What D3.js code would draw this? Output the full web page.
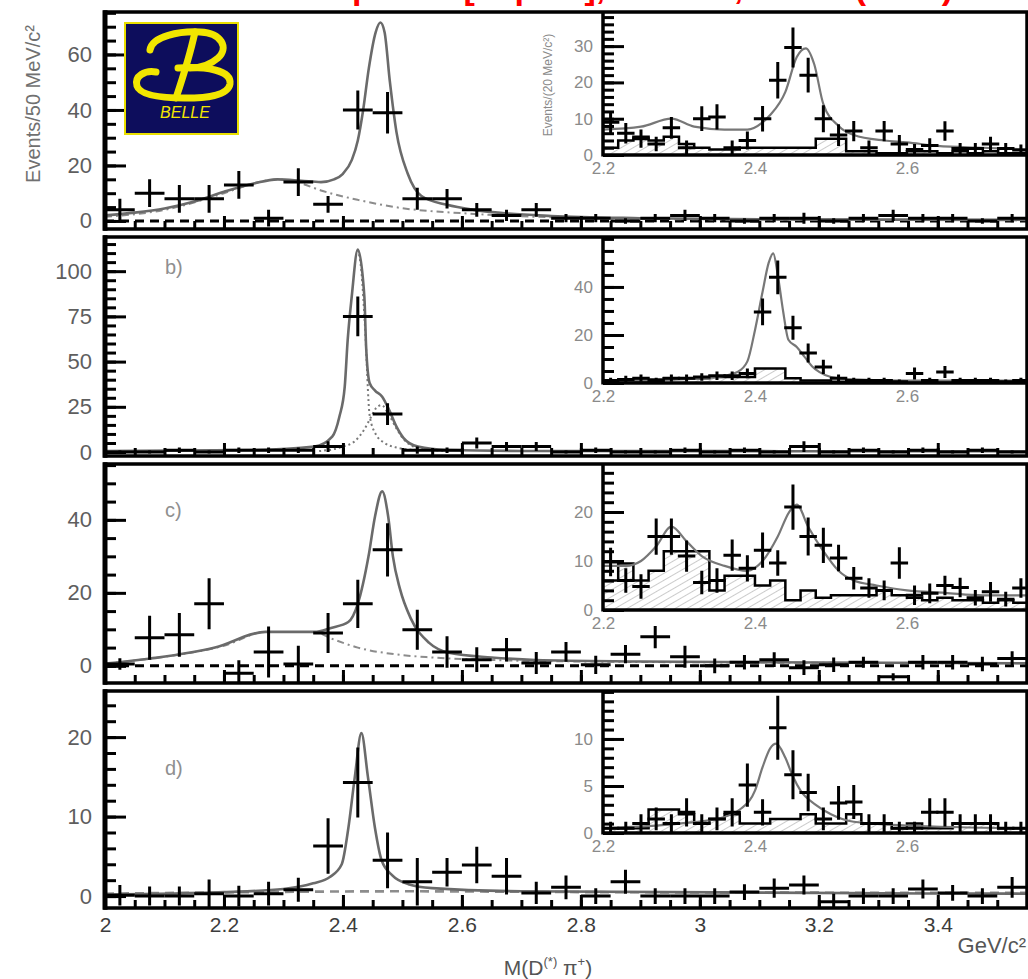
<!DOCTYPE html>
<html>
<head>
<meta charset="utf-8">
<script src="https://cdn.jsdelivr.net/npm/d3@7"></script>
<style>
  body { margin: 0; background: #fff; }
  svg { display: block; font-family: "Liberation Sans", Arial, sans-serif; }
</style>
</head>
<body>
<svg width="1028" height="979"></svg>
<script>
// ---- main spectra, 50 MeV bins ----
const binCenters = [2.025, 2.075, 2.125, 2.175, 2.225, 2.275, 2.325, 2.375, 2.425, 2.475,
  2.525, 2.575, 2.625, 2.675, 2.725, 2.775, 2.825, 2.875, 2.925, 2.975,
  3.025, 3.075, 3.125, 3.175, 3.225, 3.275, 3.325, 3.375, 3.425, 3.475, 3.525]

const aCounts = [4, 10, 8, 8, 13, 1, 14, 6, 40, 39, 8, 8, 4, 2, 4, 1, 1, 0, 1, 2, 1, 0, 1, 1, 0, 1, 2, 1, 1, 0, 1]
const aErrors = [4, 5, 5, 5, 5, 3, 5, 3, 7, 7.5, 4, 3.5, 2.5, 2, 2.5, 1.5, 1.5, 1, 1.5, 2, 1.5, 1, 1.5, 2, 1, 1.5, 2, 1.5, 1.5, 1, 1.5]
const bCounts = [0, 0, 1, 0, 1, 1, 1, 3, 75, 21, 1, 1, 5, 3, 3, 0, 1, 0, 0, 1, 0, 1, 0, 3, 0, 1, 0, 1, 0, 1, 0]
const bErrors = [1, 1, 1.5, 1, 1.5, 1.5, 1.5, 3, 11, 6, 2, 1.5, 3, 2.5, 2.5, 1, 1.5, 1, 1, 1.5, 1, 1.5, 1, 3, 1, 1.5, 1, 1.5, 1, 1.5, 1]
const cCounts = [0.5, 7.7, 8.5, 17, -2, 3.8, 0.5, 9, 17, 31.8, 9.9, 3.8, 1.7, 4.4, 0.8, 3.8, 0.3, 3.2, 8, 2.5, 0, 1, 1.7, -0.5, 0.3, 1, -3, 1, 1, 0.5, 2]
const cErrors = [1.6, 6, 6, 7, 3.5, 7, 5, 5.5, 6.6, 7.3, 5.5, 4.3, 3.4, 3.2, 3, 2.7, 2.5, 2.5, 3.2, 3, 2, 2, 2, 2, 2, 1.5, 1, 2, 2, 2, 2]
const dCounts = [0.1, 0, 0, 0.3, 0, 0.3, 0.8, 6.3, 14.3, 4.5, 1.8, 3, 3.9, 2.5, 0.4, 1.1, 0, 1.8, 0, 0, 0, 0.5, 1, 1.4, -0.7, 0, 0, 0.9, 0.4, 0, 1.1]
const dErrors = [1.3, 1.2, 1.2, 1.8, 1.3, 1.5, 1.5, 3.5, 4.4, 3.5, 3, 1.8, 2.3, 2.3, 1.4, 1.5, 1, 1.5, 1, 1, 1, 1, 1.2, 1.2, 1, 1, 1, 1.2, 1, 1, 1.3]

// fit curves, [mass, events]
const aFit = [[2.0, 2], [2.05, 3], [2.1, 4.5], [2.15, 7], [2.2, 10.5], [2.25, 13.5], [2.29, 15], [2.33, 14.5],
  [2.363, 14], [2.385, 15], [2.40, 17], [2.415, 22], [2.425, 29], [2.434, 40], [2.4435, 55], [2.455, 68],
  [2.463, 71.5], [2.47, 68], [2.479, 50], [2.49, 32], [2.509, 17], [2.532, 9], [2.575, 5.8], [2.62, 4],
  [2.665, 2.9], [2.75, 1.8], [2.9, 1], [3.1, 0.6], [3.55, 0.4]]
const aBkg = [[2.0, 1.5], [2.1, 4], [2.2, 10], [2.25, 13.5], [2.29, 15], [2.33, 13.5], [2.363, 11], [2.425, 7.6],
  [2.5, 4.6], [2.6, 2.8], [2.7, 1.7], [2.85, 0.9], [3.1, 0.5], [3.55, 0.3]]
const bFit = [[2.0, 0.5], [2.244, 1.1], [2.352, 3], [2.382, 8.5], [2.394, 19.5], [2.403, 36], [2.408, 62],
  [2.4148, 86], [2.425, 112], [2.436, 86], [2.439, 58], [2.445, 38], [2.454, 34], [2.466, 30.6], [2.478, 23],
  [2.49, 14], [2.502, 7.7], [2.526, 3], [2.574, 1.1], [2.7, 0.6], [3.55, 0.4]]
const bNarrow = [[2.425, 112], [2.431, 100], [2.437, 70], [2.445, 20], [2.455, 10], [2.47, 5], [2.49, 2.5], [2.53, 1]]
const bBroad = [[2.36, 0.5], [2.40, 3], [2.42, 6], [2.435, 12], [2.445, 18], [2.455, 24], [2.465, 26],
  [2.475, 22], [2.49, 13], [2.505, 6], [2.53, 2], [2.58, 0.5]]
const cFit = [[2.0, 0.6], [2.077, 2], [2.185, 5], [2.27, 9.3], [2.352, 9.3], [2.38, 10.4], [2.409, 12], [2.425, 17],
  [2.443, 30], [2.454, 41], [2.466, 47.8], [2.476, 41], [2.484, 30], [2.496, 21], [2.514, 13], [2.545, 6.3],
  [2.58, 3.5], [2.65, 2.3], [2.724, 1.6], [2.9, 1.2], [3.2, 0.9], [3.55, 0.7]]
const cBkg = [[2.0, 0.6], [2.1, 2.5], [2.2, 5.5], [2.27, 9.3], [2.352, 9.3], [2.38, 7.5], [2.425, 5], [2.486, 3.2],
  [2.55, 2.3], [2.65, 1.6], [2.8, 1.2], [3.1, 0.9], [3.55, 0.7]]
const dFit = [[2.0, 0.2], [2.2, 0.5], [2.3, 0.9], [2.35, 1.6], [2.378, 2.4], [2.398, 4], [2.409, 8.5], [2.42, 15],
  [2.431, 20.5], [2.442, 15], [2.454, 8.5], [2.465, 4.5], [2.483, 2.6], [2.51, 1.5], [2.55, 1], [2.7, 0.6], [3.55, 0.3]]
const dBkg = [[2.0, 0.3], [2.25, 0.5], [2.5, 0.6], [2.8, 0.5], [3.55, 0.4]]

// ---- insets, 20 MeV bins ----
const insetBins = [2.21, 2.23, 2.25, 2.27, 2.29, 2.31, 2.33, 2.35, 2.37, 2.39, 2.41, 2.43, 2.45, 2.47,
  2.49, 2.51, 2.53, 2.55, 2.57, 2.59, 2.61, 2.63, 2.65, 2.67, 2.69, 2.71, 2.73, 2.75]

const insACounts = [9, 6, 4.5, 3, 7.5, 2, 10, 10.5, 2, 4, 10, 20.6, 29.6, 22, 10, 5.5, 6.6, 2, 6.6, 3, 1.5, 2.6, 6.6, 1.8, 1.8, 3, 1.8, 1.4]
const insAErrors = [3, 2.8, 2.5, 2, 3, 2, 3.4, 3.5, 2, 2.5, 3.5, 5, 5.5, 4.8, 3.7, 3, 2.8, 2, 2.8, 2.5, 1.5, 2, 2.7, 1.5, 1.5, 2, 1.5, 1.5]
const insAHist = [2, 4, 5, 4, 5, 3, 2, 1.5, 1.5, 2, 2, 2, 2, 2, 4.5, 4.5, 1, 1, 0.5, 0.5, 1, 1, 0.5, 1, 0.5, 1, 0.5, 0.5]
const insAFit = [[2.2, 7], [2.25, 7.8], [2.29, 10], [2.32, 7.8], [2.36, 7], [2.39, 7], [2.41, 9], [2.42, 11],
  [2.44, 17.4], [2.455, 27], [2.467, 29.4], [2.478, 25], [2.49, 14], [2.51, 8], [2.53, 5.5], [2.57, 4],
  [2.6, 3.5], [2.64, 2.5], [2.7, 2], [2.76, 1.5]]

const insBCounts = [1, 1.5, 2, 1, 2, 2, 2.5, 3, 3, 4, 29.6, 44, 23, 12.5, 6.7, 2, 1, 1, 1, 0.5, 4, 1, 4.6, 1, 1, 1, 0.5, 1]
const insBErrors = [1.2, 1.5, 1.5, 1.2, 1.5, 1.5, 1.6, 1.8, 1.8, 2, 5.6, 7, 5, 4, 3, 1.5, 1.2, 1.2, 1.2, 1, 2.5, 1.2, 2.5, 1.2, 1.2, 1.2, 1, 1.2]
const insBHist = [1, 1, 1, 1.5, 2, 2, 2, 2.5, 2.5, 2.5, 6, 6, 2, 1, 1, 0.5, 0.5, 0.5, 0.5, 0.5, 0.5, 0.5, 0.5, 0.5, 0.5, 0.5, 0.5, 0.5]
const insBFit = [[2.2, 1], [2.3, 1.5], [2.35, 2.5], [2.377, 4.6], [2.39, 9], [2.40, 22], [2.41, 38], [2.418, 50],
  [2.424, 54], [2.43, 45], [2.437, 30], [2.444, 18], [2.455, 15], [2.465, 11], [2.475, 7], [2.485, 4.5],
  [2.5, 2.5], [2.53, 1.5], [2.6, 1], [2.76, 1]]

const insCCounts = [9.8, 6, 4.8, 15, 15, 11, 5.6, 6, 11.2, 8.5, 12.2, 9.6, 21, 15, 13.2, 10.6, 6.5, 4.5, 4, 9.6, 3, 3.4, 5, 4.6, 2.5, 3.7, 2.2, 4.5]
const insCErrors = [2.9, 2.5, 2.5, 3.7, 3.7, 3.2, 2.4, 2.5, 3.2, 2.7, 3.6, 2.6, 4.6, 3.9, 3.6, 2.7, 2.3, 2, 2, 3.2, 2, 2, 2, 2, 1.6, 2, 1.5, 2]
const insCHist = [6, 9.5, 6, 8, 12, 12, 12, 4, 7, 7, 5, 6, 2, 4, 2.5, 3, 3, 3, 4, 3, 2.5, 2, 2.5, 2, 2, 1.5, 2, 1.5]
const insCFit = [[2.2, 9], [2.23, 9], [2.25, 10], [2.27, 13], [2.29, 17], [2.31, 14], [2.33, 11], [2.36, 9],
  [2.39, 8], [2.41, 10], [2.43, 15], [2.445, 20], [2.455, 21.5], [2.47, 17], [2.49, 12], [2.51, 8],
  [2.53, 6], [2.56, 5], [2.6, 4], [2.65, 3.5], [2.7, 3], [2.76, 3]]

const insDCounts = [0.5, 0.5, 1, 1.5, 1, 2.2, 1, 1.5, 2.2, 5.1, 2.2, 11.2, 6.2, 4.3, 1.5, 3.2, 3.3, 1, 1, 0.5, 0.5, 2.2, 2.2, 1, 1, 1, 0.5, 0.5]
const insDErrors = [0.7, 0.7, 1, 1.2, 1, 1.5, 1, 1.2, 1.5, 2.3, 1.4, 3.4, 2.6, 2, 1.2, 1.8, 1.8, 1, 1, 0.7, 0.7, 1.5, 1.5, 1, 1, 1, 0.7, 0.7]
const insDHist = [0.5, 0.5, 0.5, 2.5, 2.5, 2, 1, 1.5, 2, 1, 1, 1.5, 1.5, 2, 1, 1, 2, 1, 1, 0.5, 1, 0.5, 0.5, 1, 1, 1, 0.5, 0.5]
const insDFit = [[2.2, 0.5], [2.3, 1], [2.35, 1.5], [2.38, 2.5], [2.40, 4.5], [2.41, 7], [2.42, 9], [2.428, 9.5],
  [2.44, 8], [2.45, 6], [2.46, 4.5], [2.48, 3], [2.5, 2], [2.53, 1.2], [2.6, 0.8], [2.76, 0.5]]

// tick labels
const xTickLabels = [2, 2.2, 2.4, 2.6, 2.8, 3, 3.2, 3.4]
const insXTickLabels = [2.2, 2.4, 2.6]
const aYTicks = [0, 20, 40, 60]
const bYTicks = [0, 25, 50, 75, 100]
const cYTicks = [0, 20, 40]
const dYTicks = [0, 10, 20]
const insAYTicks = [0, 10, 20, 30]
const insBYTicks = [0, 20, 40]
const insCYTicks = [0, 10, 20]
const insDYTicks = [0, 5, 10]


var svg = d3.select('svg')
var x = d3.scaleLinear().domain([2, 3.55]).range([105, 1027])
var xi = d3.scaleLinear().domain([2.2, 2.758]).range([603, 1027])

var defs = svg.append('defs')
defs.append('pattern')
  .attr('id', 'hatch')
  .attr('patternUnits', 'userSpaceOnUse')
  .attr('width', 6).attr('height', 6)
  .attr('patternTransform', 'rotate(60)')
  .append('line')
  .attr('x1', 0).attr('y1', 0).attr('x2', 0).attr('y2', 6)
  .attr('stroke', '#a8a8a8').attr('stroke-width', 1.2)

var panels = [
  { id: 'a', top: 12, bottom: 229, yDom: [-2.9, 75.3], yTicks: aYTicks, minor: 5,
    counts: aCounts, errs: aErrors, fit: aFit, bkg: aBkg, zero: '#000',
    ins: { axis: 155, yDom: [0, 39.4], yTicks: insAYTicks, minor: 2, cover: 180,
      counts: insACounts, errs: insAErrors, hist: insAHist, fit: insAFit } },
  { id: 'b', top: 237, bottom: 456, yDom: [-2.2, 118.9], yTicks: bYTicks, minor: 5, label: 'b)', labelY: 274,
    counts: bCounts, errs: bErrors, fit: bFit, parts: [bNarrow, bBroad],
    ins: { axis: 383, yDom: [0, 60.8], yTicks: insBYTicks, minor: 5, cover: 408,
      counts: insBCounts, errs: insBErrors, hist: insBHist, fit: insBFit } },
  { id: 'c', top: 464, bottom: 683, yDom: [-4.7, 55.3], yTicks: cYTicks, minor: 5, label: 'c)', labelY: 517,
    counts: cCounts, errs: cErrors, fit: cFit, bkg: cBkg, zero: '#000',
    ins: { axis: 610, yDom: [0, 29.8], yTicks: insCYTicks, minor: 2, cover: 626,
      counts: insCCounts, errs: insCErrors, hist: insCHist, fit: insCFit } },
  { id: 'd', top: 691, bottom: 908, yDom: [-1.5, 25.8], yTicks: dYTicks, minor: 2, label: 'd)', labelY: 775,
    counts: dCounts, errs: dErrors, fit: dFit, bkg: dBkg, bkgDash: '9,6',
    ins: { axis: 833, yDom: [0, 15.1], yTicks: insDYTicks, minor: 1, cover: 858,
      counts: insDCounts, errs: insDErrors, hist: insDHist, fit: insDFit } }
]

function styleTicks(g, w) {
  g.select('.domain').remove()
  g.selectAll('.tick line').attr('stroke', '#000').attr('stroke-width', w)
}

function crossPath(xs, y, m, v, e, hw) {
  return 'M' + xs(m) + ',' + y(v - e) + 'V' + y(v + e) +
    'M' + xs(m - hw) + ',' + y(v) + 'H' + xs(m + hw)
}

function drawPanel(p) {
  let g = svg.append('g')
  let y = d3.scaleLinear().domain(p.yDom).range([p.bottom, p.top])

  defs.append('clipPath').attr('id', 'clip' + p.id)
    .append('rect').attr('x', 105).attr('y', p.top).attr('width', 922).attr('height', p.bottom - p.top)

  let body = g.append('g').attr('clip-path', 'url(#clip' + p.id + ')')
  let line = d3.line().x(d => x(d[0])).y(d => y(d[1])).curve(d3.curveMonotoneX)

  if (p.zero) {
    body.append('line')
      .attr('x1', 105).attr('x2', 1027)
      .attr('y1', y(0)).attr('y2', y(0))
      .attr('stroke', p.zero).attr('stroke-width', 3)
      .attr('stroke-dasharray', '9,6')
  }
  if (p.bkg) {
    body.append('path').attr('d', line(p.bkg))
      .attr('fill', 'none').attr('stroke', '#8c8c8c').attr('stroke-width', p.bkgDash ? 2.6 : 2)
      .attr('stroke-dasharray', p.bkgDash || '7,4,2,4')
  }
  if (p.parts) {
    p.parts.forEach(part => {
      body.append('path').attr('d', line(part))
        .attr('fill', 'none').attr('stroke', '#7a7a7a').attr('stroke-width', 2)
        .attr('stroke-dasharray', '2,3')
    })
  }
  body.append('path').attr('d', line(p.fit))
    .attr('fill', 'none').attr('stroke', '#6a6a6a').attr('stroke-width', 2.6)

  body.selectAll('path.pt')
    .data(d3.zip(binCenters, p.counts, p.errs))
    .enter()
    .append('path')
    .attr('class', 'pt')
    .attr('d', d => crossPath(x, y, d[0], d[1], d[2], 0.025))
    .attr('fill', 'none').attr('stroke', '#000').attr('stroke-width', 3)

  // inset
  let q = p.ins
  let yi = d3.scaleLinear().domain(q.yDom).range([q.axis, p.top])
  g.append('rect')
    .attr('x', 603).attr('y', p.top).attr('width', 424).attr('height', q.cover - p.top)
    .attr('fill', '#fff')

  defs.append('clipPath').attr('id', 'iclip' + p.id)
    .append('rect').attr('x', 603).attr('y', p.top).attr('width', 424).attr('height', q.axis - p.top)
  let ib = g.append('g').attr('clip-path', 'url(#iclip' + p.id + ')')

  let steps = []
  insetBins.forEach((c, i) => {
    steps.push([c - 0.01, q.hist[i]])
    steps.push([c + 0.01, q.hist[i]])
  })
  ib.append('path')
    .attr('d', d3.area().x(d => xi(d[0])).y0(yi(0)).y1(d => yi(d[1]))(steps))
    .attr('fill', 'url(#hatch)')
  ib.append('path')
    .attr('d', d3.line().x(d => xi(d[0])).y(d => yi(d[1]))(steps))
    .attr('fill', 'none').attr('stroke', '#000').attr('stroke-width', 2.5)

  ib.append('path')
    .attr('d', d3.line().x(d => xi(d[0])).y(d => yi(d[1])).curve(d3.curveMonotoneX)(q.fit))
    .attr('fill', 'none').attr('stroke', '#777').attr('stroke-width', 2.2)

  ib.selectAll('path.ipt')
    .data(d3.zip(insetBins, q.counts, q.errs))
    .enter()
    .append('path')
    .attr('class', 'ipt')
    .attr('d', d => crossPath(xi, yi, d[0], d[1], d[2], 0.0115))
    .attr('fill', 'none').attr('stroke', '#000').attr('stroke-width', 3)

  // inset axes
  let iy = g.append('g').attr('transform', 'translate(603,0)')
  iy.append('g')
    .call(d3.axisLeft(yi).tickValues(d3.range(0, q.yDom[1], q.minor)).tickSizeInner(-11).tickFormat(''))
    .call(styleTicks, 3)
  iy.append('g')
    .call(d3.axisLeft(yi).tickValues(q.yTicks).tickSizeInner(-21).tickPadding(10))
    .call(styleTicks, 3)
    .selectAll('text').attr('font-size', 17).attr('fill', '#8a8a8a')

  g.append('g')
    .attr('transform', 'translate(0,' + q.axis + ')')
    .call(d3.axisBottom(xi).tickValues(insXTickLabels).tickSizeInner(0).tickPadding(7).tickFormat(d3.format('.1f')))
    .call(styleTicks, 2)
    .selectAll('text').attr('font-size', 17).attr('fill', '#8a8a8a')

  g.append('line').attr('x1', 603).attr('x2', 603).attr('y1', p.top).attr('y2', q.axis + 1.5)
    .attr('stroke', '#000').attr('stroke-width', 3.5)
  g.append('line').attr('x1', 603).attr('x2', 1027).attr('y1', q.axis).attr('y2', q.axis)
    .attr('stroke', '#000').attr('stroke-width', 3.5)

  // main axes and frame
  g.append('g')
    .attr('transform', 'translate(105,0)')
    .call(d3.axisLeft(y).tickValues(d3.range(0, p.yDom[1], p.minor)).tickSizeInner(-11).tickFormat(''))
    .call(styleTicks, 3)
  g.append('g')
    .attr('transform', 'translate(105,0)')
    .call(d3.axisLeft(y).tickValues(p.yTicks).tickSizeInner(-21).tickPadding(13))
    .call(styleTicks, 3)
    .selectAll('text').attr('font-size', 22).attr('fill', '#5e5e5e')

  let xb = g.append('g').attr('transform', 'translate(0,' + p.bottom + ')')
  xb.append('g')
    .call(d3.axisBottom(x).tickValues(d3.range(2.05, 3.55, 0.05)).tickSizeInner(-8).tickFormat(''))
    .call(styleTicks, 3)
  let major = xb.append('g')
    .call(d3.axisBottom(x).tickValues(xTickLabels).tickSizeInner(-13).tickPadding(9).tickFormat(d3.format('~g')))
    .call(styleTicks, 3)
  major.selectAll('text')
    .attr('font-size', 21).attr('fill', '#3c3c3c')
    .style('display', p.id === 'd' ? null : 'none')

  g.append('rect')
    .attr('x', 105).attr('y', p.top).attr('width', 922).attr('height', p.bottom - p.top)
    .attr('fill', 'none').attr('stroke', '#000').attr('stroke-width', 3.5)
  g.append('line').attr('x1', 105).attr('x2', 105).attr('y1', p.top - 1.7).attr('y2', p.bottom + 1.7)
    .attr('stroke', '#000').attr('stroke-width', 5)

  if (p.label) {
    g.append('text')
      .attr('x', 165).attr('y', p.labelY)
      .attr('font-size', 20).attr('fill', '#8f8f8f')
      .text(p.label)
  }
}

panels.forEach(drawPanel)

// BELLE logo
var logo = svg.append('g')
logo.append('rect')
  .attr('x', 125).attr('y', 23).attr('width', 113).attr('height', 111)
  .attr('fill', '#0d0d5c').attr('stroke', '#e9df00').attr('stroke-width', 2)
let bStroke = ['M150,50 C152,36 180,31 200,32 C222,33 229,48 218,58 C210,65 200,68 190,68',
  'M195,32 C190,55 182,80 176,98',
  'M178,68 C205,66 232,70 230,84 C228,96 205,98 185,98 C160,98 140,95 137,86 C134,76 145,70 156,72']
logo.selectAll('path')
  .data(bStroke)
  .enter()
  .append('path')
  .attr('d', d => d)
  .attr('fill', 'none').attr('stroke', '#f2e600').attr('stroke-width', 7)
  .attr('stroke-linecap', 'round')
logo.append('text')
  .attr('x', 185).attr('y', 118)
  .attr('text-anchor', 'middle')
  .attr('font-size', 16).attr('font-style', 'italic')
  .attr('fill', '#f2e600')
  .text('BELLE')

// axis titles
svg.append('text')
  .attr('transform', 'translate(40,104) rotate(-90)')
  .attr('text-anchor', 'middle')
  .attr('font-size', 20).attr('fill', '#707070')
  .text('Events/50 MeV/c²')

svg.append('text')
  .attr('transform', 'translate(552,85) rotate(-90)')
  .attr('text-anchor', 'middle')
  .attr('font-size', 12).attr('fill', '#8a8a8a')
  .text('Events/(20 MeV/c²)')

let xt = svg.append('text')
  .attr('x', 548).attr('y', 975)
  .attr('text-anchor', 'middle')
  .attr('font-size', 21).attr('fill', '#555')
xt.append('tspan').text('M(D')
xt.append('tspan').attr('font-size', 13).attr('dy', -9).text('(*)')
xt.append('tspan').attr('dy', 9).text(' π')
xt.append('tspan').attr('font-size', 13).attr('dy', -9).text('+')
xt.append('tspan').attr('dy', 9).text(')')

svg.append('text')
  .attr('x', 1026).attr('y', 953)
  .attr('text-anchor', 'end')
  .attr('font-size', 22).attr('fill', '#555')
  .text('GeV/c²')

// red caption, cropped by the top edge as in the scan
svg.append('text')
  .attr('x', 182).attr('y', -1)
  .attr('font-size', 34).attr('font-weight', 'bold')
  .attr('fill', '#ff0000')
  .text('Belle  D** spectra  [hep-ex], PRD 69,112002(2004)')
</script>
</body>
</html>
